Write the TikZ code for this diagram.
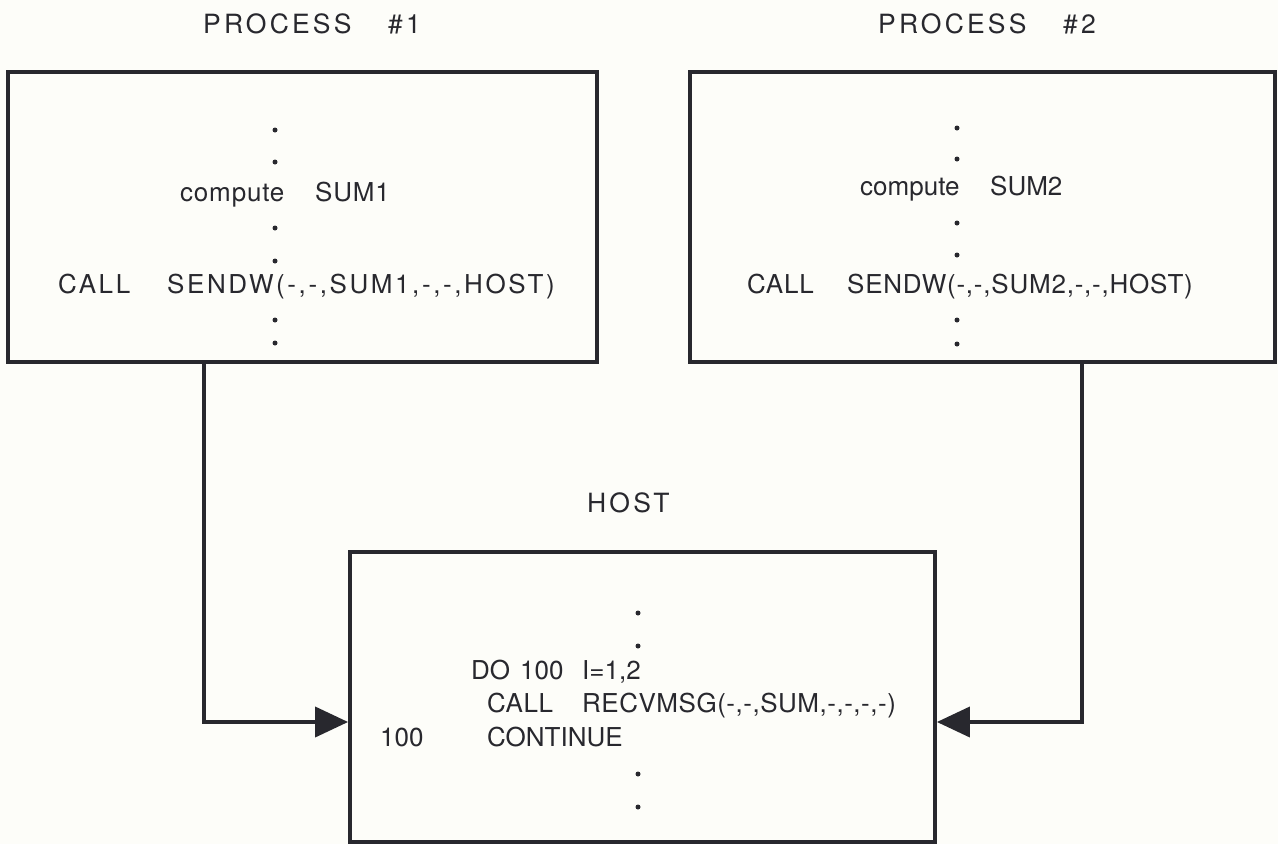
\documentclass[tikz,border=0pt]{standalone}
\usepackage{fontspec}
\setmainfont{TeX Gyre Heros}
\usetikzlibrary{arrows.meta}
\definecolor{paper}{RGB}{253,253,249}
\definecolor{ink}{RGB}{40,40,46}
\newcommand\lsp[2]{{\addfontfeature{LetterSpace=#1}#2}}
\tikzset{
  box/.style={draw=ink, line width=3.8pt, fill=none, inner sep=0pt},
  txt/.style={anchor=base west, inner sep=0pt, text=ink, font=\fontsize{26}{30}\selectfont},
  ttl/.style={anchor=base west, inner sep=0pt, text=ink, font=\fontsize{26.5}{30}\selectfont},
  conn/.style={draw=ink, line width=3.8pt, -{Triangle[length=33pt,width=30pt]}},
  dot/.style={fill=ink}
}
\begin{document}
\begin{tikzpicture}[x=1pt,y=-1pt]
\fill[paper] (0,0) rectangle (1278,844);
\useasboundingbox (0,0) rectangle (1278,844);
% titles
\node[ttl] (t1) at (203,33) {\lsp{12}{\makebox[185pt][l]{PROCESS}\#1}};
\node[ttl] (t2) at (878,33) {\lsp{12}{\makebox[185pt][l]{PROCESS}\#2}};
\node[ttl] (t3) at (587,512) {\lsp{12}{HOST}};
% boxes
\node[box, minimum width=589pt, minimum height=290pt] (p1) at (302.5,217) {};
\node[box, minimum width=585pt, minimum height=290pt] (p2) at (982.5,217) {};
\node[box, minimum width=585pt, minimum height=290pt] (h) at (642.5,697) {};
% box 1 text
\foreach \yy in {130,162,228,261,320,343} \fill[dot] (275,\yy) circle (2.5pt);
\node[txt] (c1) at (180,201) {\lsp{3}{\makebox[135pt][l]{compute}SUM1}};
\node[txt] (s1) at (58,293) {\lsp{10}{\makebox[109pt][l]{CALL}SENDW(-,-,SUM1,-,-,HOST)}};
% box 2 text
\foreach \yy in {128,159,223,255,320,344} \fill[dot] (957,\yy) circle (2.5pt);
\node[txt] (c2) at (860,195) {\makebox[130pt][l]{compute}SUM2};
\node[txt] (s2) at (747,293) {\lsp{3}{\makebox[100pt][l]{CALL}SENDW(-,-,SUM2,-,-,HOST)}};
% host text
\foreach \yy in {613,646,774,807} \fill[dot] (638,\yy) circle (2.5pt);
\node[txt] (d1) at (471,679) {\makebox[49pt][l]{DO}\makebox[62pt][l]{100}I=1,2};
\node[txt] (d2) at (487,712) {\lsp{2}{\makebox[95pt][l]{CALL}RECVMSG(-,-,SUM,-,-,-,-)}};
\node[txt] (d3) at (380,746) {\makebox[107pt][l]{100}CONTINUE};
% connectors
\coordinate (x1) at (204,722);
\coordinate (x2) at (1082,722);
\draw[conn] (p1.south -| x1) |- (h.west |- x1);
\draw[conn] (p2.south -| x2) |- (h.east |- x2);
\end{tikzpicture}
\end{document}
